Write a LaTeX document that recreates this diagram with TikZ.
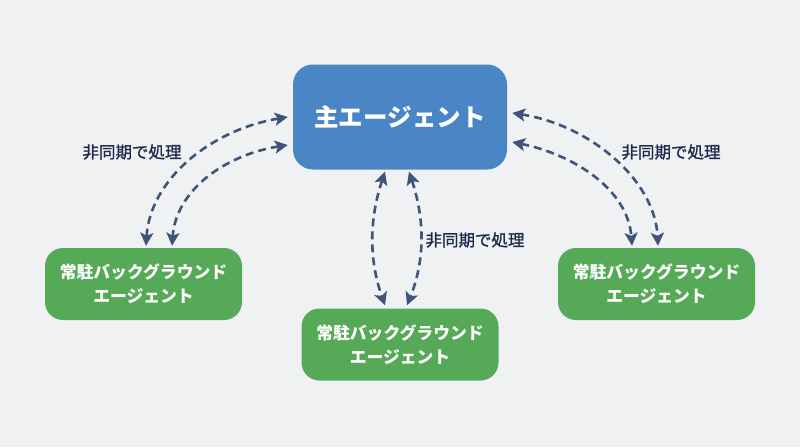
\documentclass[tikz,border=0pt]{standalone}
\usepackage{fontspec}
\setmainfont{Noto Sans CJK JP}
\newfontfamily\medfont{Noto Sans CJK JP}[FakeBold=1.2]
\usetikzlibrary{arrows.meta,calc}
\definecolor{bgc}{HTML}{F0F1F3}
\definecolor{mainblue}{HTML}{4A86C6}
\definecolor{agreen}{HTML}{55A957}
\definecolor{arrc}{HTML}{3E5479}
\definecolor{labc}{HTML}{1E2B4A}
\begin{document}
\begin{tikzpicture}[x=1pt,y=-1pt,
  mainbox/.style={fill=mainblue,rounded corners=20pt,minimum width=214pt,minimum height=105pt,inner sep=0pt,text=white,font=\bfseries\fontsize{24.5}{28}\selectfont},
  subbox/.style={fill=agreen,rounded corners=18pt,minimum width=197pt,minimum height=72pt,inner sep=0pt,text=white,align=center,font=\bfseries\fontsize{16.8}{24}\selectfont},
  conn/.style={draw=arrc,line width=2.6pt,dash pattern=on 8pt off 5pt,{Stealth[length=13pt,width=13pt,inset=3pt]}-{Stealth[length=13pt,width=13pt,inset=3pt]}},
  lab/.style={text=labc,font=\medfont\fontsize{16.5}{20}\selectfont}]
\fill[bgc] (0,0) rectangle (800,447);
\useasboundingbox (0,0) rectangle (800,447);
\node[mainbox] (main) at (400,117) {主エージェント};
\node[subbox] (left) at (143.5,284) {常駐バックグラウンド\\エージェント};
\node[subbox] (center) at (400,344.5) {常駐バックグラウンド\\エージェント};
\node[subbox] (right) at (656.5,284) {常駐バックグラウンド\\エージェント};
% left pair
\draw[conn] ([xshift=-5pt]main.west) .. controls (210,130) and (150,180) .. ([xshift=2.5pt,yshift=2pt]left.north);
\draw[conn] ([xshift=-5pt,yshift=-28pt]main.west) .. controls (225,155) and (176,190) .. ([xshift=28.5pt,yshift=2pt]left.north);
% right pair
\draw[conn] ([xshift=5pt,yshift=4pt]main.east) .. controls (590,125) and (655,180) .. ([xshift=1.5pt,yshift=2pt]right.north);
\draw[conn] ([xshift=5pt,yshift=-25pt]main.east) .. controls (575,155) and (628,190) .. ([xshift=-24.5pt,yshift=2pt]right.north);
% center pair
\draw[conn] ([xshift=-15pt,yshift=-2pt]main.south) .. controls (369,220) and (369,260) .. ([xshift=-15pt,yshift=3pt]center.north);
\draw[conn] ([xshift=9pt,yshift=-2pt]main.south) .. controls (425,220) and (425,260) .. ([xshift=7pt,yshift=3pt]center.north);
% labels
\node[lab] (l1) at (132,152) {非同期で処理};
\node[lab] (l2) at (671,152) {非同期で処理};
\node[lab] (l3) at (475,240) {非同期で処理};
\end{tikzpicture}
\end{document}
